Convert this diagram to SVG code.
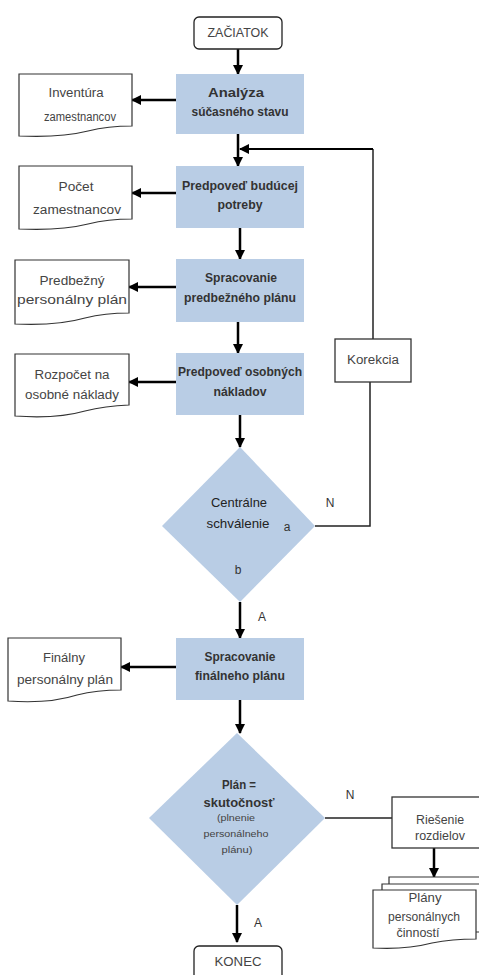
<svg xmlns="http://www.w3.org/2000/svg" width="479" height="975" viewBox="0 0 479 975">
<style>
.proc{fill:#b9cde5;stroke:none}
.term{fill:#fff;stroke:#222;stroke-width:1.3}
.doc{fill:#fff;stroke:#333;stroke-width:1.2}
.box{fill:#fff;stroke:#333;stroke-width:1.3}
.bt{font-family:"Liberation Sans",Arial,sans-serif;font-size:13px;font-weight:bold;fill:#333;text-anchor:middle}
.dt{font-family:"Liberation Sans",Arial,sans-serif;font-size:12.5px;fill:#444;text-anchor:middle}
.st{font-family:"Liberation Sans",Arial,sans-serif;font-size:9.5px;fill:#444;text-anchor:middle}
.lb{font-family:"Liberation Sans",Arial,sans-serif;font-size:12px;fill:#333;text-anchor:middle}
.arr{fill:none;stroke:#000;stroke-width:2.5;marker-end:url(#ah)}
.thin{fill:none;stroke:#222;stroke-width:1.5}
</style>
<defs>
<marker id="ah" markerUnits="userSpaceOnUse" markerWidth="10" markerHeight="10" viewBox="0 0 10 10" refX="9" refY="5" orient="auto">
<path d="M0,0 L10,5 L0,10 Z" fill="#000"/>
</marker>
</defs>
<rect width="479" height="975" fill="#fff"/>

<g id="connectors">
<path class="arr" d="M238,49 V74"/>
<path class="arr" d="M176,100 H132"/>
<path class="arr" d="M238,134 V166"/>
<path class="thin" d="M373,339 V149"/>
<path class="arr" d="M373,149 H240" style="stroke-width:2.2"/>
<path class="arr" d="M176,193 H132"/>
<path class="arr" d="M240,228 V259"/>
<path class="arr" d="M176,287 H129"/>
<path class="arr" d="M238,322 V353"/>
<path class="arr" d="M176,382 H129"/>
<path class="arr" d="M240,415 V447"/>
<path class="thin" d="M315,526 H370 V382"/>
<path class="arr" d="M240,602 V638"/>
<path class="arr" d="M176,667 H121"/>
<path class="arr" d="M240,700 V733"/>
<path class="thin" d="M325,818 H392"/>
<path class="arr" d="M434,848 V877"/>
<path class="arr" d="M237,905 V942"/>
<text class="lb" x="330" y="507">N</text>
<text class="lb" x="262" y="621">A</text>
<text class="lb" x="350" y="799">N</text>
<text class="lb" x="258" y="927">A</text>
</g>

<g id="start">
<rect class="term" x="194" y="17" width="88" height="32" rx="5"/>
<text class="dt" x="238" y="37" textLength="61" lengthAdjust="spacingAndGlyphs">ZAČIATOK</text>
</g>

<g id="analyza">
<rect class="proc" x="176" y="74" width="128" height="60"/>
<text class="bt" x="236" y="97" textLength="56" lengthAdjust="spacingAndGlyphs">Analýza</text>
<text class="bt" x="240" y="116" textLength="97" lengthAdjust="spacingAndGlyphs">súčasného stavu</text>
</g>

<g id="inventura">
<path class="doc" d="M19,74 H132 V126 Q108,126 88,131 Q60,138 19,136 Z"/>
<text class="dt" x="76" y="97" textLength="55" lengthAdjust="spacingAndGlyphs">Inventúra</text>
<text class="dt" x="80" y="121" textLength="72" lengthAdjust="spacingAndGlyphs">zamestnancov</text>
</g>

<g id="predpoved-buducej">
<rect class="proc" x="176" y="166" width="128" height="62"/>
<text class="bt" x="240" y="190" textLength="116" lengthAdjust="spacingAndGlyphs">Predpoveď budúcej</text>
<text class="bt" x="240" y="209" textLength="45" lengthAdjust="spacingAndGlyphs">potreby</text>
</g>

<g id="pocet">
<path class="doc" d="M19,166 H132 V219 Q108,219 88,224 Q60,231 19,229 Z"/>
<text class="dt" x="76" y="191" textLength="35" lengthAdjust="spacingAndGlyphs">Počet</text>
<text class="dt" x="77" y="214" textLength="88" lengthAdjust="spacingAndGlyphs">zamestnancov</text>
</g>

<g id="spracovanie-predbezneho">
<rect class="proc" x="176" y="259" width="128" height="63"/>
<text class="bt" x="241" y="282" textLength="72" lengthAdjust="spacingAndGlyphs">Spracovanie</text>
<text class="bt" x="240" y="302" textLength="112" lengthAdjust="spacingAndGlyphs">predbežného plánu</text>
</g>

<g id="predbezny">
<path class="doc" d="M15,260 H129 V313 Q105,313 85,318 Q57,326 15,324 Z"/>
<text class="dt" x="72" y="285" textLength="65" lengthAdjust="spacingAndGlyphs">Predbežný</text>
<text class="dt" x="72" y="304" textLength="110" lengthAdjust="spacingAndGlyphs">personálny plán</text>
</g>

<g id="predpoved-osobnych">
<rect class="proc" x="176" y="353" width="128" height="62"/>
<text class="bt" x="240" y="376" textLength="124" lengthAdjust="spacingAndGlyphs">Predpoveď osobných</text>
<text class="bt" x="240" y="396" textLength="53" lengthAdjust="spacingAndGlyphs">nákladov</text>
</g>

<g id="rozpocet">
<path class="doc" d="M15,354 H129 V405 Q105,406 85,411 Q57,419 15,416 Z"/>
<text class="dt" x="72" y="379" textLength="75" lengthAdjust="spacingAndGlyphs">Rozpočet na</text>
<text class="dt" x="72" y="399" textLength="94" lengthAdjust="spacingAndGlyphs">osobné náklady</text>
</g>

<g id="korekcia">
<rect class="box" x="335" y="339" width="76" height="43"/>
<text class="dt" x="373" y="364" textLength="52" lengthAdjust="spacingAndGlyphs">Korekcia</text>
</g>

<g id="centralne-schvalenie">
<path class="proc" d="M240,447 L315,526 L240,602 L162,526 Z"/>
<text class="bt" x="239" y="507" textLength="56" lengthAdjust="spacingAndGlyphs" style="font-weight:normal;fill:#222">Centrálne</text>
<text class="bt" x="238" y="528" textLength="63" lengthAdjust="spacingAndGlyphs" style="font-weight:normal;fill:#222">schválenie</text>
<text class="lb" x="287" y="531">a</text>
<text class="lb" x="238" y="574">b</text>
</g>

<g id="spracovanie-finalneho">
<rect class="proc" x="176" y="638" width="128" height="62"/>
<text class="bt" x="240" y="661" textLength="71" lengthAdjust="spacingAndGlyphs">Spracovanie</text>
<text class="bt" x="240" y="680" textLength="90" lengthAdjust="spacingAndGlyphs">finálneho plánu</text>
</g>

<g id="finalny">
<path class="doc" d="M8,638 H121 V690 Q97,690 77,695 Q49,704 8,701 Z"/>
<text class="dt" x="64" y="662" textLength="42" lengthAdjust="spacingAndGlyphs">Finálny</text>
<text class="dt" x="65" y="684" textLength="96" lengthAdjust="spacingAndGlyphs">personálny plán</text>
</g>

<g id="plan-skutocnost">
<path class="proc" d="M237,733 L325,818 L237,905 L149,818 Z"/>
<text class="bt" x="239" y="789" textLength="34" lengthAdjust="spacingAndGlyphs">Plán =</text>
<text class="bt" x="239" y="807" textLength="71" lengthAdjust="spacingAndGlyphs">skutočnosť</text>
<text class="st" x="236" y="821" textLength="38" lengthAdjust="spacingAndGlyphs">(plnenie</text>
<text class="st" x="236" y="837" textLength="65" lengthAdjust="spacingAndGlyphs">personálneho</text>
<text class="st" x="237" y="853" textLength="31" lengthAdjust="spacingAndGlyphs">plánu)</text>
</g>

<g id="riesenie">
<rect class="box" x="392" y="797" width="94" height="51"/>
<text class="dt" x="440" y="824" textLength="48" lengthAdjust="spacingAndGlyphs">Riešenie</text>
<text class="dt" x="440" y="840" textLength="50" lengthAdjust="spacingAndGlyphs">rozdielov</text>
</g>

<g id="plany">
<path class="doc" d="M389,884 V877 H485"/>
<path class="doc" d="M382,890 V884 H485 V932 H476"/>
<path class="doc" d="M373,890 H476 V939 Q452,939 432,943 Q405,950 373,948 Z"/>
<text class="dt" x="425" y="902" textLength="33" lengthAdjust="spacingAndGlyphs">Plány</text>
<text class="dt" x="424" y="921" textLength="72" lengthAdjust="spacingAndGlyphs">personálnych</text>
<text class="dt" x="418" y="937" textLength="43" lengthAdjust="spacingAndGlyphs">činností</text>
</g>

<g id="koniec">
<rect class="term" x="194" y="946" width="88" height="40" rx="5"/>
<text class="dt" x="238" y="966" textLength="47" lengthAdjust="spacingAndGlyphs">KONEC</text>
</g>
</svg>
